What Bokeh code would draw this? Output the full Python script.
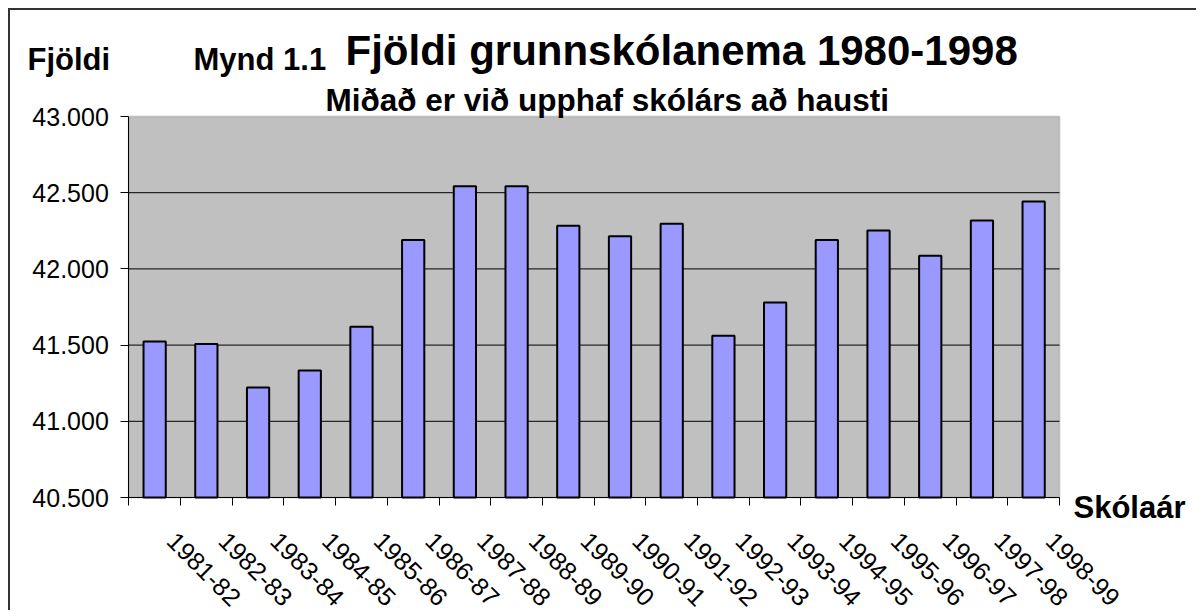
import math
from bokeh.plotting import figure
from bokeh.models import (ColumnDataSource, FixedTicker, Range1d, Label,
                          BoxAnnotation)
from bokeh.embed import file_html
from bokeh.resources import INLINE

# ---- data ----
school_years = ["1981-82", "1982-83", "1983-84", "1984-85", "1985-86", "1986-87",
                "1987-88", "1988-89", "1989-90", "1990-91", "1991-92", "1992-93",
                "1993-94", "1994-95", "1995-96", "1996-97", "1997-98", "1998-99"]
students = [41524, 41507, 41221, 41333, 41621, 42190, 42543, 42543, 42283,
            42214, 42296, 41562, 41779, 42190, 42252, 42087, 42317, 42443]
y_ticks = [40500, 41000, 41500, 42000, 42500, 43000]
y_tick_labels = ["40.500", "41.000", "41.500", "42.000", "42.500", "43.000"]

title_main = "Fjöldi grunnskólanema 1980-1998"
title_prefix = "Mynd 1.1"
subtitle = "Miðað er við upphaf skólárs að hausti"
y_title = "Fjöldi"
x_title = "Skólaár"

FONT = "Liberation Sans"

# ---- layout (canvas pixels) ----
W, H = 1188, 602
PL, PR, PT, PB = 118.3, 1049.0, 106.0, 487.0   # plot-area edges in canvas px

n = len(school_years)
x_per_px = n / (PR - PL)
y_lo, y_hi = y_ticks[0], y_ticks[-1]
y_per_px = (y_hi - y_lo) / (PB - PT)
x_start = 0 - PL * x_per_px
x_end = x_start + W * x_per_px
y_top = y_hi + PT * y_per_px
y_bottom = y_top - H * y_per_px


def cx(px):
    return x_start + px * x_per_px


def cy(py):
    return y_top - py * y_per_px


centers = [i + 0.5 for i in range(n)]
source = ColumnDataSource(dict(x=centers, students=students, label=school_years))

p = figure(width=W, height=H, output_backend="svg", toolbar_location=None,
           x_range=Range1d(x_start, x_end), y_range=Range1d(y_bottom, y_top),
           min_border=0, outline_line_color=None,
           background_fill_color="white", border_fill_color="white")
p.styles = {"margin-left": "8px", "margin-top": "8px",
            "border-left": "2px solid #333333", "border-top": "2px solid #333333"}
p.xgrid.visible = False
p.ygrid.visible = False

# plot area
p.add_layout(BoxAnnotation(left=0, right=n, bottom=y_lo, top=y_hi,
                           fill_color="#C0C0C0", fill_alpha=1,
                           line_color="#808080", line_width=2, level="underlay"))
# horizontal grid lines
grid_y = y_ticks[1:-1]
p.segment(x0=[0] * len(grid_y), x1=[n] * len(grid_y), y0=grid_y, y1=grid_y,
          line_color="black", line_width=1)

p.vbar(x="x", top="students", bottom=y_lo, width=0.43, source=source,
       fill_color="#9999FF", line_color="black", line_width=2)

# x axis
label_shift = 0.33
label_pos = [c + label_shift for c in centers]
xa = p.xaxis[0]
xa.fixed_location = y_lo
xa.bounds = (0, n)
xa.ticker = FixedTicker(ticks=label_pos, minor_ticks=list(range(n + 1)))
xa.major_label_overrides = {c: lab for c, lab in zip(label_pos, school_years)}
xa.major_tick_out = 0
xa.major_tick_in = 0
xa.minor_tick_out = 8
xa.minor_tick_in = 0
xa.minor_tick_line_color = "black"
xa.axis_line_color = "black"
xa.major_label_orientation = -math.pi / 4
xa.major_label_text_font = FONT
xa.major_label_text_font_size = "25px"
xa.major_label_text_color = "black"
xa.major_label_standoff = 31

# y axis
ya = p.yaxis[0]
ya.fixed_location = 0
ya.bounds = (y_lo, y_hi)
ya.ticker = FixedTicker(ticks=y_ticks)
ya.major_label_overrides = {tk: lab for tk, lab in zip(y_ticks, y_tick_labels)}
ya.major_tick_out = 8
ya.major_tick_in = 0
ya.minor_tick_out = 0
ya.minor_tick_in = 0
ya.major_tick_line_color = "black"
ya.axis_line_color = "black"
ya.major_label_text_font = FONT
ya.major_label_text_font_size = "25px"
ya.major_label_text_color = "black"
ya.major_label_standoff = 12


def add_label(text, px, py, size):
    p.add_layout(Label(x=cx(px), y=cy(py), text=text, text_font=FONT,
                       text_font_style="bold", text_font_size=size,
                       text_color="black", text_baseline="alphabetic",
                       text_align="left"))


add_label(y_title, 17, 49, "31px")
add_label(title_prefix, 183, 49, "31px")
add_label(title_main, 335, 40, "42px")
add_label(subtitle, 315, 89, "31.5px")
add_label(x_title, 1063, 497, "31px")

open("out.html", "w").write(file_html(p, INLINE))
